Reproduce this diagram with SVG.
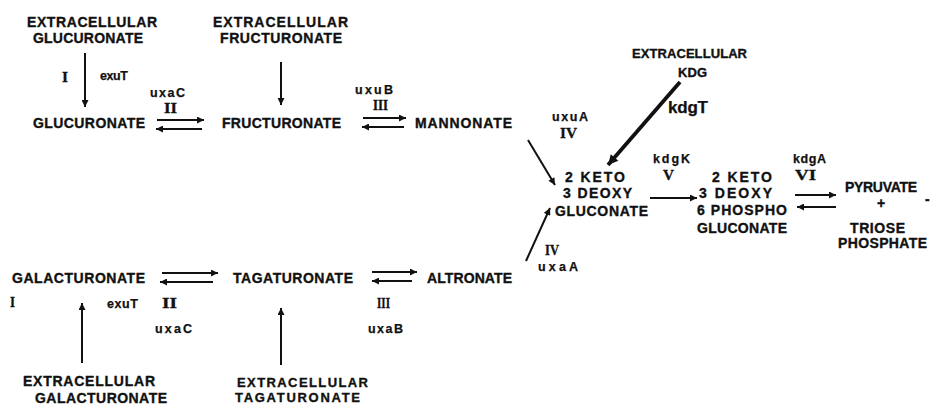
<svg xmlns="http://www.w3.org/2000/svg" width="931" height="406" viewBox="0 0 931 406">
  <style>
    .t { font-family: "Liberation Sans", Arial, sans-serif; font-weight: bold; font-size: 14px; fill: #111; stroke: #111; stroke-width: 0.35; }
    .s { font-size: 13px; }
    .e { font-family: "Liberation Sans", Arial, sans-serif; font-weight: bold; font-size: 12.5px; fill: #111; stroke: #111; stroke-width: 0.25; }
    .big { font-size: 17px; }
    .r { font-family: "Liberation Serif", "Times New Roman", serif; font-weight: bold; font-size: 14px; fill: #111; stroke: #111; stroke-width: 0.3; }
    .ln { stroke: #111; stroke-width: 2; fill: none; marker-end: url(#ah); }
    .thick { stroke: #111; stroke-width: 3.8; fill: none; marker-end: url(#ahb); }
  </style>
  <defs>
    <marker id="ah" viewBox="0 0 10 10" refX="10" refY="5" markerUnits="userSpaceOnUse" markerWidth="9" markerHeight="7" orient="auto">
      <path d="M0,0 L10,5 L0,10 z" fill="#111"/>
    </marker>
    <marker id="ahb" viewBox="0 0 10 10" refX="10" refY="5" markerUnits="userSpaceOnUse" markerWidth="12" markerHeight="10" orient="auto">
      <path d="M0,0 L10,5 L0,10 z" fill="#111"/>
    </marker>
  </defs>
  <rect width="931" height="406" fill="#fff"/>

  <!-- connectors -->
  <g id="connectors">
    <line class="ln" x1="85" y1="53" x2="85" y2="107"/>
    <line class="ln" x1="281" y1="62" x2="281" y2="105"/>
    <line class="ln" x1="157" y1="120" x2="204" y2="120"/>
    <line class="ln" x1="202" y1="129" x2="156" y2="129"/>
    <line class="ln" x1="363" y1="118" x2="406" y2="118"/>
    <line class="ln" x1="404" y1="127" x2="362" y2="127"/>
    <line class="ln" x1="528" y1="140" x2="555" y2="185"/>
    <line class="thick" x1="680" y1="82" x2="608" y2="165"/>
    <line class="ln" x1="526" y1="261" x2="550" y2="208"/>
    <line class="ln" x1="650" y1="198" x2="697" y2="198"/>
    <line class="ln" x1="795" y1="195" x2="836" y2="195"/>
    <line class="ln" x1="836" y1="207" x2="797" y2="207"/>
    <line class="ln" x1="162" y1="273" x2="218" y2="273"/>
    <line class="ln" x1="213" y1="282" x2="160" y2="282"/>
    <line class="ln" x1="372" y1="272" x2="417" y2="272"/>
    <line class="ln" x1="412" y1="281" x2="372" y2="281"/>
    <line class="ln" x1="82" y1="363" x2="82" y2="303"/>
    <line class="ln" x1="281" y1="365" x2="281" y2="308"/>
  </g>

  <!-- enzyme and step labels -->
  <g id="labels">
    <text class="r" x="62" y="82" textLength="6" lengthAdjust="spacingAndGlyphs">I</text>
    <text class="e" x="100" y="80" textLength="28" lengthAdjust="spacing">exuT</text>
    <text class="e" x="150" y="97" textLength="35" lengthAdjust="spacing">uxaC</text>
    <text class="r" x="164" y="113" textLength="13" lengthAdjust="spacingAndGlyphs">II</text>
    <text class="e" x="355" y="94" textLength="38" lengthAdjust="spacing">uxuB</text>
    <text class="r" x="373" y="110" textLength="15" lengthAdjust="spacingAndGlyphs">III</text>
    <text class="e" x="552" y="121" textLength="36" lengthAdjust="spacing">uxuA</text>
    <text class="r" x="560" y="138" textLength="17" lengthAdjust="spacingAndGlyphs">IV</text>
    <text class="e big" x="668" y="113" textLength="40" lengthAdjust="spacing">kdgT</text>
    <text class="e" x="653" y="163" textLength="37" lengthAdjust="spacing">kdgK</text>
    <text class="r" x="663" y="180" textLength="11" lengthAdjust="spacingAndGlyphs">V</text>
    <text class="e" x="793" y="163" textLength="33" lengthAdjust="spacing">kdgA</text>
    <text class="r" x="795" y="180" textLength="21" lengthAdjust="spacingAndGlyphs">VI</text>
    <text class="r" x="545" y="255" font-size="12" textLength="14" lengthAdjust="spacingAndGlyphs">IV</text>
    <text class="e" x="538" y="271" textLength="40" lengthAdjust="spacing">uxaA</text>
    <text class="r" x="10" y="307" textLength="5" lengthAdjust="spacingAndGlyphs">I</text>
    <text class="e" x="107" y="308" textLength="31" lengthAdjust="spacing">exuT</text>
    <text class="r" x="162" y="308" textLength="15" lengthAdjust="spacingAndGlyphs">II</text>
    <text class="e" x="155" y="333" textLength="37" lengthAdjust="spacing">uxaC</text>
    <text class="r" x="377" y="308" textLength="13" lengthAdjust="spacingAndGlyphs">III</text>
    <text class="e" x="368" y="333" textLength="35" lengthAdjust="spacing">uxaB</text>
  </g>

  <!-- compounds -->
  <g id="ext-glucuronate">
    <text class="t" x="27" y="27" textLength="130" lengthAdjust="spacing">EXTRACELLULAR</text>
    <text class="t" x="33" y="43" textLength="110" lengthAdjust="spacing">GLUCURONATE</text>
  </g>
  <g id="ext-fructuronate">
    <text class="t" x="213" y="27" textLength="135" lengthAdjust="spacing">EXTRACELLULAR</text>
    <text class="t" x="220" y="43" textLength="122" lengthAdjust="spacing">FRUCTURONATE</text>
  </g>
  <g id="glucuronate">
    <text class="t" x="33" y="128" textLength="112" lengthAdjust="spacing">GLUCURONATE</text>
  </g>
  <g id="fructuronate">
    <text class="t" x="222" y="128" textLength="119" lengthAdjust="spacing">FRUCTURONATE</text>
  </g>
  <g id="mannonate">
    <text class="t" x="415" y="128" textLength="97" lengthAdjust="spacing">MANNONATE</text>
  </g>
  <g id="ext-kdg">
    <text class="t s" x="632" y="58" textLength="115" lengthAdjust="spacing">EXTRACELLULAR</text>
    <text class="t s" x="678" y="77" textLength="29" lengthAdjust="spacing">KDG</text>
  </g>
  <g id="kdg">
    <text class="t" x="565" y="182" textLength="60" lengthAdjust="spacing">2 KETO</text>
    <text class="t" x="563" y="198" textLength="69" lengthAdjust="spacing">3 DEOXY</text>
    <text class="t" x="555" y="216" textLength="93" lengthAdjust="spacing">GLUCONATE</text>
  </g>
  <g id="kdpg">
    <text class="t" x="712" y="182" textLength="60" lengthAdjust="spacing">2 KETO</text>
    <text class="t" x="699" y="198" textLength="73" lengthAdjust="spacing">3 DEOXY</text>
    <text class="t" x="697" y="215" textLength="90" lengthAdjust="spacing">6 PHOSPHO</text>
    <text class="t" x="697" y="233" textLength="90" lengthAdjust="spacing">GLUCONATE</text>
  </g>
  <g id="pyruvate-triose">
    <text class="t" x="845" y="192" textLength="72" lengthAdjust="spacing">PYRUVATE</text>
    <text class="t" x="881" y="208" font-size="9" text-anchor="middle">+</text>
    <text class="t" x="850" y="233" textLength="55" lengthAdjust="spacing">TRIOSE</text>
    <text class="t" x="838" y="248" textLength="89" lengthAdjust="spacing">PHOSPHATE</text>
    <text class="t" x="925" y="204" font-size="11">-</text>
  </g>
  <g id="galacturonate">
    <text class="t" x="12" y="283" textLength="133" lengthAdjust="spacing">GALACTURONATE</text>
  </g>
  <g id="tagaturonate">
    <text class="t" x="233" y="283" textLength="120" lengthAdjust="spacing">TAGATURONATE</text>
  </g>
  <g id="altronate">
    <text class="t" x="427" y="283" textLength="85" lengthAdjust="spacing">ALTRONATE</text>
  </g>
  <g id="ext-galacturonate">
    <text class="t" x="23" y="386" textLength="132" lengthAdjust="spacing">EXTRACELLULAR</text>
    <text class="t" x="35" y="403" textLength="132" lengthAdjust="spacing">GALACTURONATE</text>
  </g>
  <g id="ext-tagaturonate">
    <text class="t s" x="237" y="387" textLength="131" lengthAdjust="spacing">EXTRACELLULAR</text>
    <text class="t s" x="235" y="402" textLength="125" lengthAdjust="spacing">TAGATURONATE</text>
  </g>
</svg>
